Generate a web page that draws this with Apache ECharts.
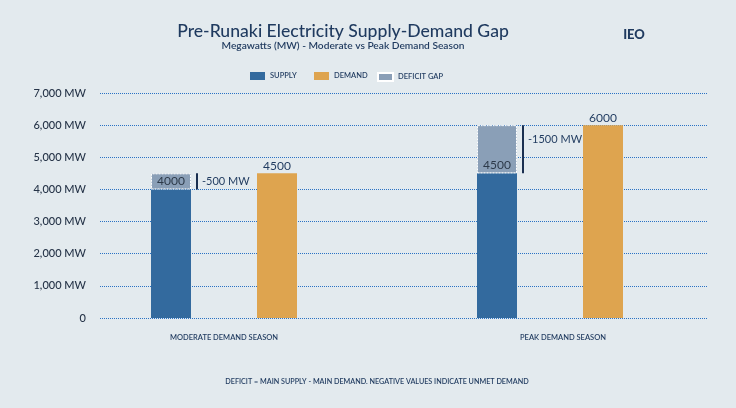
<!DOCTYPE html>
<html>
<head>
<meta charset="utf-8">
<script src="https://cdn.jsdelivr.net/npm/echarts@6/dist/echarts.min.js"></script>
<style>
  html, body { margin: 0; padding: 0; background: #e3eaee; }
  #chart { width: 736px; height: 408px; }
</style>
</head>
<body>
<div id="chart"></div>
<script>
// 数据
var seasons = ['MODERATE DEMAND SEASON', 'PEAK DEMAND SEASON'];
var supply = [4000, 4500];
var demand = [4500, 6000];
var gapLabels = ['-500 MW', '-1500 MW'];
var yTicks = [0, 1000, 2000, 3000, 4000, 5000, 6000, 7000];

var gap = [];
var gapLines = [];
for (var i = 0; i < seasons.length; i++) {
    gap.push(demand[i] - supply[i]);
    gapLines.push([i, supply[i], demand[i]]);
}

var FONT = 'Lato';
var NAVY = '#1f3a5f';

var chart = echarts.init(document.getElementById('chart'));
chart.setOption({
    backgroundColor: '#e3eaee',
    animation: false,
    textStyle: { fontFamily: FONT },
    graphic: [
        {
            type: 'text', x: 343, y: 31,
            style: { text: 'Pre-Runaki Electricity Supply-Demand Gap', font: '500 17.6px ' + FONT,
                     fill: NAVY, textAlign: 'center', textVerticalAlign: 'middle' }
        },
        {
            type: 'text', x: 343, y: 46,
            style: { text: 'Megawatts (MW) - Moderate vs Peak Demand Season', font: '600 10.2px ' + FONT,
                     fill: NAVY, textAlign: 'center', textVerticalAlign: 'middle' }
        },
        {
            type: 'text', x: 634, y: 35,
            style: { text: 'IEO', font: '900 13px ' + FONT, fill: NAVY,
                     textAlign: 'center', textVerticalAlign: 'middle' }
        },
        {
            type: 'text', x: 377, y: 382,
            style: { text: 'DEFICIT = MAIN SUPPLY - MAIN DEMAND. NEGATIVE VALUES INDICATE UNMET DEMAND',
                     font: '600 7.2px ' + FONT, fill: NAVY, textAlign: 'center', textVerticalAlign: 'middle' }
        }
    ],
    legend: [
        { data: ['SUPPLY'], left: 245, top: 67 },
        { data: ['DEMAND'], left: 309, top: 67 },
        { data: ['DEFICIT GAP'], left: 372, top: 67 }
    ].map(function (l) {
        l.itemWidth = 15;
        l.itemHeight = 8;
        l.icon = 'rect';
        l.textStyle = { fontSize: 7.5, fontWeight: 600, color: NAVY, fontFamily: FONT };
        return l;
    }),
    grid: [
        { left: 61, right: 23, top: 93, bottom: 90 },
        { left: 100, right: 28, top: 93, bottom: 90 }
    ],
    xAxis: [
        {
            type: 'category', gridIndex: 0, data: seasons,
            axisLine: { show: false }, axisTick: { show: false },
            axisLabel: {
                margin: 16, fontSize: 7.5, fontWeight: 600, color: NAVY,
                formatter: function (v, idx) { return idx === 1 ? '{p|' + v + '}' : v; },
                rich: { p: { fontSize: 7.5, fontWeight: 600, color: NAVY, padding: [0, 0, 0, 26] } }
            }
        },
        { type: 'category', gridIndex: 1, data: seasons, show: false }
    ],
    yAxis: [
        { type: 'value', gridIndex: 0, min: 0, max: 7000, interval: 1000, show: false },
        {
            type: 'value', gridIndex: 1, min: 0, max: 7000, interval: 1000,
            axisLine: { show: false }, axisTick: { show: false },
            axisLabel: {
                margin: 14, fontSize: 11, fontWeight: 500, color: '#263448',
                formatter: function (v) {
                    if (yTicks.indexOf(v) < 0) return '';
                    return v === 0 ? '0' : v.toLocaleString('en-US') + ' MW';
                }
            },
            splitLine: { lineStyle: { color: '#2a72c4', type: [1, 1], width: 1 } }
        }
    ],
    series: [
        {
            name: 'SUPPLY', type: 'bar', stack: 'a', xAxisIndex: 0, yAxisIndex: 0,
            data: supply, barWidth: 40, barGap: '165%', z: 3,
            itemStyle: { color: '#336a9e' }
        },
        {
            name: 'DEFICIT GAP', type: 'bar', stack: 'a', xAxisIndex: 0, yAxisIndex: 0,
            data: gap, barWidth: 40, z: 3,
            itemStyle: { color: '#8a9fb7', borderColor: '#ffffff', borderWidth: 1, borderType: [2, 1] },
            label: {
                show: true, position: 'insideBottom', distance: 2,
                fontSize: 12, color: '#2d3a4a',
                formatter: function (p) { return supply[p.dataIndex]; }
            }
        },
        {
            name: 'DEMAND', type: 'bar', xAxisIndex: 0, yAxisIndex: 0,
            data: demand, barWidth: 40, z: 3,
            itemStyle: { color: '#dea44f' },
            label: { show: true, position: 'top', distance: 1, fontSize: 12, color: NAVY }
        },
        {
            type: 'custom', xAxisIndex: 0, yAxisIndex: 0, z: 5,
            data: gapLines,
            encode: { x: 0, y: [1, 2] },
            renderItem: function (params, api) {
                var lo = api.coord([api.value(0), api.value(1)]);
                var hi = api.coord([api.value(0), api.value(2)]);
                var x = lo[0] - 27;
                var ty = hi[1] + Math.min((lo[1] - hi[1]) / 2, 14);
                return {
                    type: 'group',
                    children: [
                        { type: 'line', shape: { x1: x, y1: lo[1], x2: x, y2: hi[1] },
                          style: { stroke: '#1a2f50', lineWidth: 2 } },
                        { type: 'text', x: x + 5, y: ty,
                          style: { text: gapLabels[params.dataIndex], fontSize: 11, fontFamily: FONT,
                                   fill: NAVY, textAlign: 'left', textVerticalAlign: 'middle' } }
                    ]
                };
            }
        }
    ]
});
</script>
</body>
</html>
